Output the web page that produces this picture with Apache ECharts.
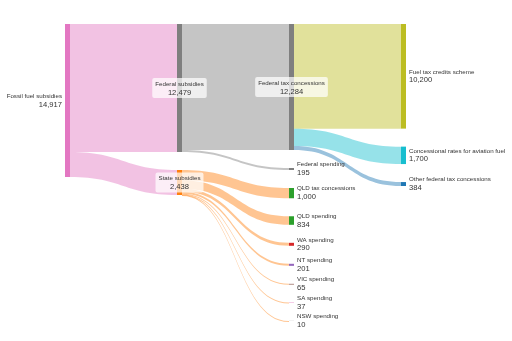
<!DOCTYPE html>
<html><head><meta charset="utf-8">
<script src="https://cdn.jsdelivr.net/npm/echarts@6/dist/echarts.min.js"></script>
<style>html,body{margin:0;padding:0;background:#fff}#c{width:512px;height:341px}</style>
</head><body><div id="c"></div>
<script>
// ---- data ----
const nodeNames = [
  'Fossil fuel subsidies', 'Federal subsidies', 'State subsidies',
  'Federal tax concessions', 'Federal spending', 'QLD tax concessions',
  'QLD spending', 'WA spending', 'NT spending', 'VIC spending',
  'SA spending', 'NSW spending',
  'Fuel tax credits scheme', 'Concessional rates for aviation fuel', 'Other federal tax concessions'
];
const nodeValues = [14917, 12479, 2438, 12284, 195, 1000, 834, 290, 201, 65, 37, 10, 10200, 1700, 384];
const linkSources = [
  'Fossil fuel subsidies', 'Fossil fuel subsidies',
  'Federal subsidies', 'Federal subsidies',
  'State subsidies', 'State subsidies', 'State subsidies', 'State subsidies', 'State subsidies', 'State subsidies', 'State subsidies',
  'Federal tax concessions', 'Federal tax concessions', 'Federal tax concessions'
];
const linkTargets = [
  'Federal subsidies', 'State subsidies',
  'Federal tax concessions', 'Federal spending',
  'QLD tax concessions', 'QLD spending', 'WA spending', 'NT spending', 'VIC spending', 'SA spending', 'NSW spending',
  'Fuel tax credits scheme', 'Concessional rates for aviation fuel', 'Other federal tax concessions'
];
const linkValues = [12479, 2438, 12284, 195, 1000, 834, 290, 201, 65, 37, 10, 10200, 1700, 384];

// ---- styles ----
const nodeColors = ['#e377c2', '#7f7f7f', '#ff7f0e', '#7f7f7f', '#7f7f7f', '#2ca02c', '#2ca02c', '#d62728', '#9467bd', '#8c564b', '#e377c2', '#7f7f7f', '#bcbd22', '#17becf', '#1f77b4'];
const linkColors = ['#e377c2', '#e377c2', '#7f7f7f', '#7f7f7f', '#ff7f0e', '#ff7f0e', '#ff7f0e', '#ff7f0e', '#ff7f0e', '#ff7f0e', '#ff7f0e', '#bcbd22', '#17becf', '#1f77b4'];
const insideLabels = ['Federal subsidies', 'Federal tax concessions', 'State subsidies'];

const fmt = v => v.toLocaleString('en-US');
const FONT = '"Liberation Sans", Arial, sans-serif';
const rich = {
  n: { fontSize: 6.2, fontFamily: FONT, color: '#333', lineHeight: 8 },
  v: { fontSize: 7.6, fontFamily: FONT, color: '#333', lineHeight: 9 }
};

const nodes = nodeNames.map((name, i) => {
  let label;
  if (i === 0) {
    label = { position: 'left', distance: 3, align: 'right' };
  } else if (insideLabels.includes(name)) {
    label = { position: 'inside', align: 'center', backgroundColor: 'rgba(255,255,255,0.72)', padding: [2, 3, 1, 3], borderRadius: 2 };
  } else {
    label = { position: 'right', distance: 3, align: 'left' };
  }
  label.formatter = '{n|' + name + '}\n{v|' + fmt(nodeValues[i]) + '}';
  label.rich = rich;
  return { name, value: nodeValues[i], itemStyle: { color: nodeColors[i], borderWidth: 0 }, label };
});
const links = linkSources.map((s, i) => ({
  source: s, target: linkTargets[i], value: linkValues[i],
  lineStyle: { color: linkColors[i], opacity: 0.45, curveness: 0.5 }
}));

const chart = echarts.init(document.getElementById('c'), null, { renderer: 'canvas' });
chart.setOption({
  animation: false,
  backgroundColor: '#fff',
  series: [{
    type: 'sankey',
    left: 65, right: 106, top: 24, bottom: 20,
    nodeWidth: 5, nodeGap: 18,
    nodeAlign: 'left',
    layoutIterations: 0,
    draggable: false,
    emphasis: { disabled: true },
    label: { show: true },
    data: nodes,
    links: links
  }]
});
</script></body></html>
